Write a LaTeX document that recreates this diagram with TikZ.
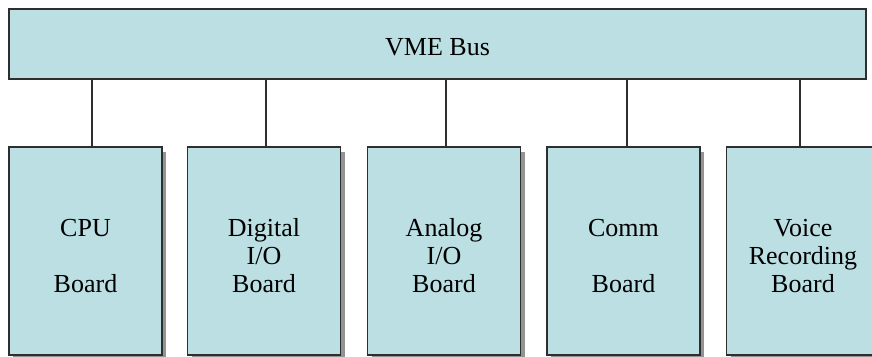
\documentclass[tikz,border=0pt]{standalone}
\usepackage{fontspec}
\setmainfont{Liberation Serif}
\usetikzlibrary{shadows}
\definecolor{BoardFill}{HTML}{BBDFE3}
\definecolor{EdgeGray}{HTML}{2E2E2E}

\begin{document}
\begin{tikzpicture}[x=1pt,y=-1pt,
  every node/.style={font=\fontsize{26}{28}\selectfont},
  busbox/.style={draw=EdgeGray,line width=1.2pt,fill=BoardFill,
    minimum width=857pt,minimum height=70pt,inner sep=0pt,text height=24pt},
  board/.style={draw=EdgeGray,line width=1.2pt,fill=BoardFill,
    minimum width=153pt,minimum height=208pt,inner sep=0pt,align=center,
    text height=84pt,
    drop shadow={shadow xshift=4pt,shadow yshift=-5pt,fill=gray!85,opacity=1}},
  link/.style={draw=EdgeGray,line width=1.2pt}]
\useasboundingbox (0,0) rectangle (872,356);

% backplane
\node[busbox] (bus) at (437.5,44) {VME Bus};

% cards on the bus
\node[board] (cpu)   at (85.5,251)  {CPU\\[28pt]Board};
\node[board] (dio)   at (264,251)   {Digital\\I/O\\Board};
\node[board] (aio)   at (444,251)   {Analog\\I/O\\Board};
\node[board] (comm)  at (623.5,251) {Comm\\[28pt]Board};
\node[board] (voice) at (803,251)   {Voice\\Recording\\Board};

\foreach \b/\dx in {cpu/6.5,dio/2,aio/2,comm/3.5,voice/-3}
  \draw[link] ([xshift=\dx pt]\b.north) -- ([xshift=\dx pt]\b.north |- bus.south);
\end{tikzpicture}
\end{document}
